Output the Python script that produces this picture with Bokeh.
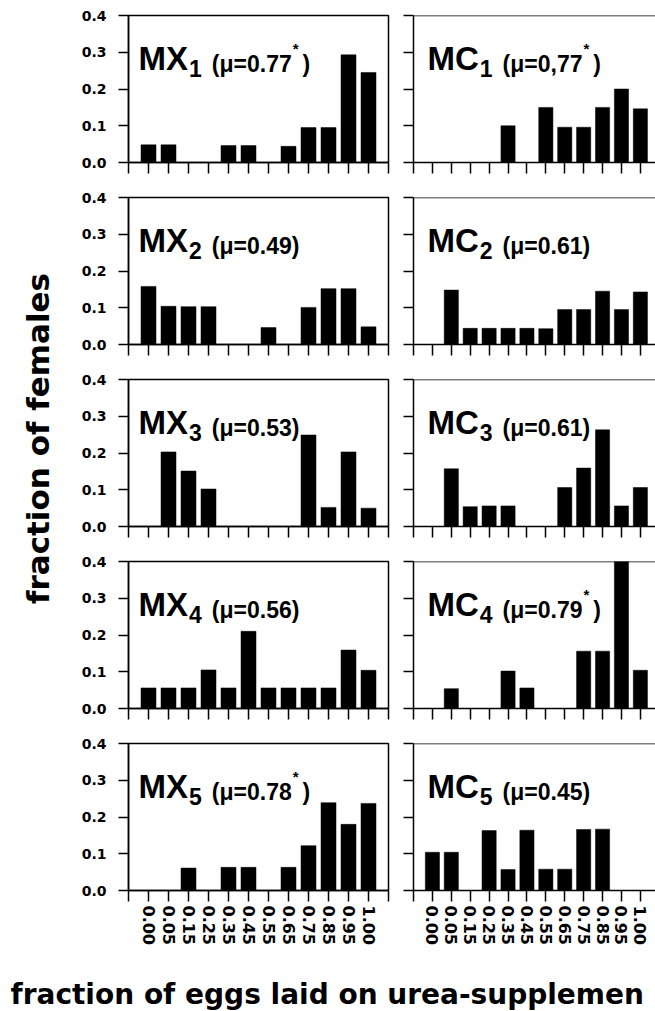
import math
from bokeh.plotting import figure
from bokeh.models import FixedTicker, Label, Span, Range1d, PrintfTickFormatter
from bokeh.layouts import row, column
from bokeh.embed import file_html
from bokeh.resources import INLINE

# ---------------- data ----------------
categories = ["0.00", "0.05", "0.15", "0.25", "0.35", "0.45",
              "0.55", "0.65", "0.75", "0.85", "0.95", "1.00"]
y_ticks = [0.0, 0.1, 0.2, 0.3, 0.4]

mx1 = [0.048, 0.048, 0, 0, 0.046, 0.046, 0, 0.044, 0.095, 0.095, 0.293, 0.245]
mx2 = [0.158, 0.104, 0.103, 0.103, 0, 0, 0.046, 0, 0.101, 0.152, 0.152, 0.048]
mx3 = [0, 0.203, 0.151, 0.102, 0, 0, 0, 0, 0.249, 0.052, 0.203, 0.05]
mx4 = [0.056, 0.056, 0.056, 0.105, 0.056, 0.21, 0.056, 0.056, 0.056, 0.056, 0.159, 0.104]
mx5 = [0, 0, 0.061, 0, 0.063, 0.063, 0, 0.063, 0.122, 0.239, 0.18, 0.237]

mc1 = [0, 0, 0, 0, 0.1, 0, 0.15, 0.096, 0.096, 0.15, 0.2, 0.146]
mc2 = [0, 0.148, 0.044, 0.044, 0.044, 0.044, 0.043, 0.095, 0.095, 0.145, 0.095, 0.143]
mc3 = [0, 0.157, 0.054, 0.056, 0.056, 0, 0, 0.106, 0.159, 0.263, 0.056, 0.106]
mc4 = [0, 0.054, 0, 0, 0.102, 0.056, 0, 0, 0.156, 0.156, 0.4, 0.104]
mc5 = [0.104, 0.104, 0, 0.163, 0.057, 0.164, 0.058, 0.058, 0.166, 0.167, 0, 0]

mx_series = [mx1, mx2, mx3, mx4, mx5]
mc_series = [mc1, mc2, mc3, mc4, mc5]
panel_index = ["1", "2", "3", "4", "5"]
mx_means = ["0.77", "0.49", "0.53", "0.56", "0.78"]
mx_signif = [True, False, False, False, True]
mc_means = ["0,77", "0.61", "0.61", "0.79", "0.45"]
mc_signif = [True, False, False, True, False]

y_title = "fraction of females"
x_title = "fraction of eggs laid on urea-supplemen"

# ---------------- style ----------------
FONT = "Liberation Sans"      # panel captions
AFONT = "DejaVu Sans"         # axis texts (wider, like the scan)
LW = 1.5
FH = 147          # frame height
FIRST_TOP = 15
ROW_TOP = 8
ROW_BOTTOM = 27
LAST_BOTTOM = 68
YW = 60           # width of y-title strip

# Arial/Liberation Sans Bold advance widths (per 1000 em)
WID = {'M': 833, 'X': 667, 'C': 722, '(': 333, ')': 333, '=': 584,
       'μ': 611, '.': 278, ',': 278, '*': 389, ' ': 278}
for d in "0123456789":
    WID[d] = 556


def tw(s, size):
    return sum(WID.get(c, 556) for c in s) / 1000.0 * size


def make_panel(vals, name, sub, mean, star, left, first, bottom):
    fw = 260 if left else 242
    x_end = 12 if left else 11.8
    bl = 68 if left else 12
    br = 13 if left else 0
    bt = FIRST_TOP if first else ROW_TOP
    bb = LAST_BOTTOM if bottom else ROW_BOTTOM
    p = figure(width=bl + fw + br, height=bt + FH + bb,
               x_range=Range1d(-1, x_end), y_range=Range1d(0, 0.4),
               output_backend="svg", toolbar_location=None,
               min_border_left=bl, min_border_right=br,
               min_border_top=bt, min_border_bottom=bb)
    p.grid.visible = False
    p.background_fill_color = "white"
    p.border_fill_color = "white"

    xs = list(range(len(categories)))
    p.vbar(x=xs, top=vals, bottom=0, width=0.75,
           fill_color="black", line_color="black", line_width=0.5)

    # x axis
    xa = p.xaxis[0]
    xa.ticker = FixedTicker(ticks=list(range(-1, len(categories) + 1)))
    xa.axis_line_width = LW
    xa.axis_line_color = "black"
    xa.major_tick_line_width = LW
    xa.major_tick_line_color = "black"
    xa.major_tick_out = 11
    xa.major_tick_in = 0
    xa.minor_tick_line_color = None
    if bottom:
        ov = {i: c for i, c in enumerate(categories)}
        ov[-1] = ""
        ov[len(categories)] = ""
        xa.major_label_overrides = ov
        xa.major_label_orientation = "vertical"
        xa.major_label_text_font = AFONT
        xa.major_label_text_font_style = "bold"
        xa.major_label_text_font_size = "16px"
        xa.major_label_text_color = "black"
        xa.major_label_standoff = 4
    else:
        xa.major_label_overrides = {i: "" for i in range(-1, len(categories) + 1)}
        xa.major_label_text_font_size = "0px"
        xa.major_label_standoff = 0

    # y axis
    ya = p.yaxis[0]
    ya.ticker = FixedTicker(ticks=y_ticks)
    ya.axis_line_width = LW
    ya.axis_line_color = "black"
    ya.major_tick_line_width = LW
    ya.major_tick_line_color = "black"
    ya.major_tick_out = 10
    ya.major_tick_in = 0
    ya.minor_tick_line_color = None
    if left:
        ya.formatter = PrintfTickFormatter(format="%.1f")
        ya.major_label_text_font = AFONT
        ya.major_label_text_font_style = "bold"
        ya.major_label_text_font_size = "14px"
        ya.major_label_text_color = "black"
        ya.major_label_standoff = 12
        p.outline_line_color = "black"
        p.outline_line_width = LW
        p.outline_line_alpha = 1.0
    else:
        ya.major_label_overrides = {t: "" for t in y_ticks}
        ya.major_label_text_font_size = "0px"
        ya.major_label_standoff = 0
        p.outline_line_color = None
        p.add_layout(Span(location=0.4, dimension="width",
                          line_color="black", line_width=LW))

    # panel caption
    ppx = fw / (x_end + 1.0)
    ppy = FH / 0.4

    def pos(dx, dy):
        return -1 + dx / ppx, 0.4 - dy / ppy

    def lab(text, dx, dy, size):
        x, y = pos(dx, dy)
        p.add_layout(Label(x=x, y=y, text=text, text_font=FONT,
                           text_font_style="bold",
                           text_font_size="%dpx" % size,
                           text_color="black", text_align="left",
                           text_baseline="alphabetic"))

    big, mid, small = 33, 23, 15
    lx = 10 if left else 14
    lab(name, lx, 43, big)
    sx = lx + tw(name, big) + 1
    lab(sub, sx, 53, mid)
    mx = sx + tw(sub, mid) + 10
    mtext = "(\u03bc=" + mean
    lab(mtext, mx, 48, mid)
    ex = mx + tw(mtext, mid)
    if star:
        lab("*", ex + 1, 33, small)
        ex = ex + 1 + tw("*", small) + 4
    lab(")", ex, 48, mid)
    return p


rows = []
n = len(mx_series)
for i in range(n):
    first = (i == 0)
    last = (i == n - 1)
    pl = make_panel(mx_series[i], "MX", panel_index[i], mx_means[i],
                    mx_signif[i], True, first, last)
    pr = make_panel(mc_series[i], "MC", panel_index[i], mc_means[i],
                    mc_signif[i], False, first, last)
    rows.append(row(pl, pr, spacing=0))

grid_h = (FIRST_TOP + FH + ROW_BOTTOM) + (ROW_TOP + FH + ROW_BOTTOM) * (n - 2) \
    + ROW_TOP + FH + LAST_BOTTOM
grid_w = (68 + 260 + 13) + (12 + 242)

# y title
yt = figure(width=YW, height=grid_h, x_range=Range1d(0, YW),
            y_range=Range1d(0, grid_h), x_axis_type=None, y_axis_type=None,
            output_backend="svg", toolbar_location=None,
            min_border=0, min_border_left=0, min_border_right=0,
            min_border_top=0, min_border_bottom=0)
yt.grid.visible = False
yt.outline_line_color = None
yt.add_layout(Label(x=37, y=grid_h - 438, text=y_title, angle=math.pi / 2,
                    text_font=AFONT, text_font_style="bold",
                    text_font_size="31px", text_color="black",
                    text_align="center", text_baseline="middle"))

# x title
XH = 1011 - grid_h
xt = figure(width=YW + grid_w, height=XH, x_range=Range1d(0, YW + grid_w),
            y_range=Range1d(0, XH), x_axis_type=None, y_axis_type=None,
            output_backend="svg", toolbar_location=None,
            min_border=0, min_border_left=0, min_border_right=0,
            min_border_top=0, min_border_bottom=0)
xt.grid.visible = False
xt.outline_line_color = None
xt.add_layout(Label(x=10, y=XH - 36, text=x_title, text_font=AFONT,
                    text_font_style="bold", text_font_size="28px",
                    text_color="black", text_align="left",
                    text_baseline="alphabetic"))

layout = column(row(yt, column(*rows, spacing=0), spacing=0), xt, spacing=0)

open("out.html", "w").write(file_html(layout, INLINE))
